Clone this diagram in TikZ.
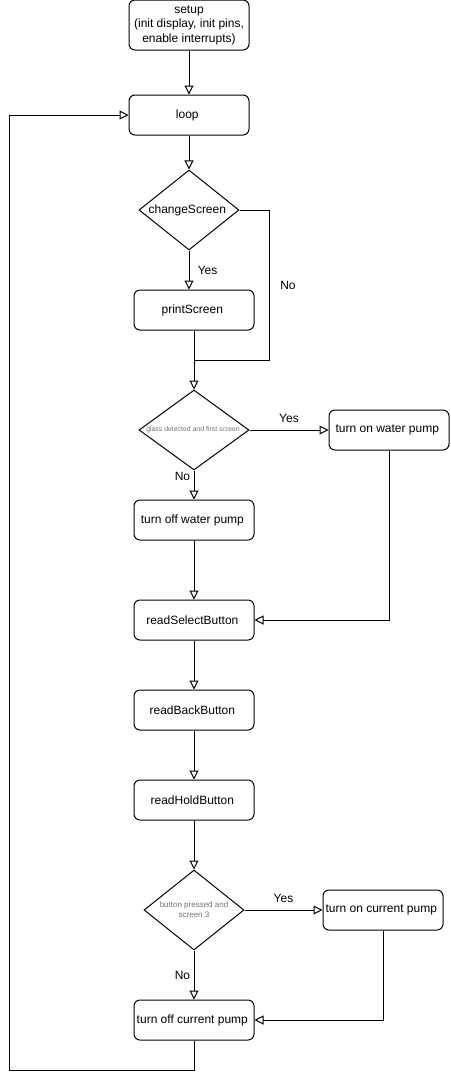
\documentclass[tikz,border=0pt]{standalone}
\usepackage{fontspec}
\setmainfont{Liberation Sans}
\usetikzlibrary{shapes, arrows.meta, calc, positioning}
\tikzset{
    module/.style={
           rectangle,
           rounded corners=6pt,
           draw=black, line width=1pt,
           minimum width=120pt,
           minimum height=40pt,
           inner sep=2pt,
           align=center,
           },
    decision/.style={
           diamond,
           draw=black, line width=1pt,
           shape aspect=1.25,
           minimum width=100pt,
           minimum height=80pt,
           inner sep=0pt,
           align=center,
           },
    smalltext/.style={
           text=black!55,
           },
}
\begin{document}
\begin{tikzpicture}[->,>={Triangle[open,length=9pt,width=9pt]},
                    line width=1pt, node distance=90pt,
                    font=\fontsize{12}{14.5}\selectfont]

 \useasboundingbox (0,0) rectangle (450pt,-1082pt);

 \node[module, minimum height=50pt] (SETUP) at (189pt,-25pt)
 {%
  setup\\(init display, init pins,\\enable interrupts)
 };

 \node[module,
  below of=SETUP] (LOOP)
 {%
  loop
 };

 \node[decision,
  below of=LOOP,
  yshift=-5pt] (CHANGE)
 {%
  changeScreen
 };

 \node[module,
  below of=CHANGE,
  yshift=-10pt,
  xshift=5pt] (PRINT)
 {%
  printScreen
 };

 \node[decision, smalltext,
  below of=PRINT,
  yshift=-30pt,
  minimum width=110pt,
  shape aspect=1.4,
  font=\fontsize{6.9}{8}\selectfont] (GLASS)
 {%
  glass detected and first screen
 };

 \node[module,
  right of=GLASS,
  xshift=105pt] (WATER_ON)
 {%
  turn on water pump
 };

 \node[module,
  below of=GLASS] (WATER_OFF)
 {%
  turn off water pump
 };

 \node[module,
  below of=WATER_OFF,
  yshift=-10pt] (SELECT)
 {%
  readSelectButton
 };

 \node[module,
  below of=SELECT] (BACK)
 {%
  readBackButton
 };

 \node[module,
  below of=BACK] (HOLD)
 {%
  readHoldButton
 };

 \node[decision, smalltext,
  below of=HOLD,
  yshift=-20pt,
  font=\fontsize{8}{10}\selectfont] (BUTTON)
 {%
  button pressed and\\screen 3
 };

 \node[module,
  right of=BUTTON,
  xshift=99pt] (CURRENT_ON)
 {%
  turn on current pump
 };

 \node[module,
  below of=BUTTON,
  yshift=-20pt] (CURRENT_OFF)
 {%
  turn off current pump
 };

 \coordinate (MERGE) at ($(PRINT.south)+(0,-30pt)$);

 \path (SETUP) edge (LOOP);
 \path (LOOP) edge (CHANGE);

 \path (CHANGE.south) edge node[right, xshift=5pt] {Yes} (CHANGE.south |- PRINT.north);
 \draw[-] (CHANGE.east) -- ++(30pt,0) |- node[pos=0.25, right, xshift=7pt] {No} (MERGE);
 \draw[-] (PRINT.south) -- (MERGE);
 \path (MERGE) edge (GLASS);

 \path (GLASS) edge node[above, yshift=4pt] {Yes} (WATER_ON);
 \path (GLASS) edge node[pos=0.2, left] {No} (WATER_OFF);
 \path (WATER_OFF) edge (SELECT);
 \draw (WATER_ON) |- (SELECT);

 \path (SELECT) edge (BACK);
 \path (BACK) edge (HOLD);
 \path (HOLD) edge (BUTTON);

 \path (BUTTON) edge node[above, yshift=4pt] {Yes} (CURRENT_ON);
 \path (BUTTON) edge node[left] {No} (CURRENT_OFF);
 \draw (CURRENT_ON) |- (CURRENT_OFF);

 % back to the loop
 \draw (CURRENT_OFF.south) -- ++(0,-30pt) -| ($(LOOP.west)+(-119pt,0)$) -- (LOOP);

\end{tikzpicture}
\end{document}
